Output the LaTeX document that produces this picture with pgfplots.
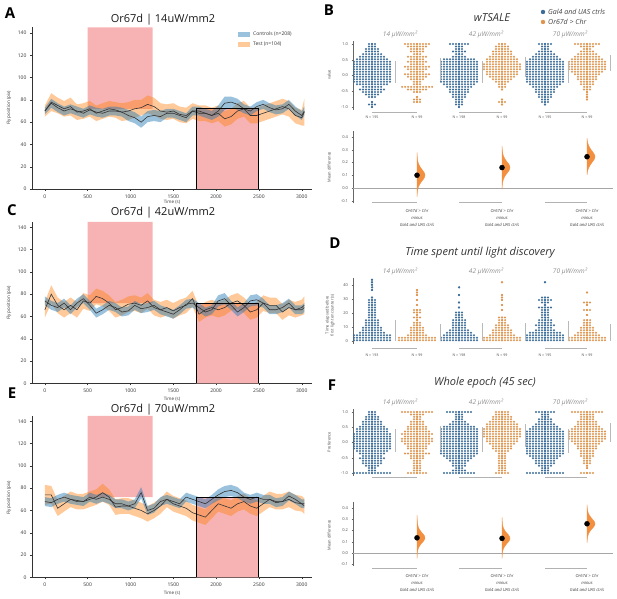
\documentclass[border=0pt]{standalone}
\usepackage{fontspec}
\setmainfont{Open Sans}
\usepackage{pgfplots}
\usepackage{pgfplotstable}
\pgfplotsset{compat=1.18}
\definecolor{bandblue}{HTML}{1F77B4}
\definecolor{bandorange}{HTML}{FF7F0E}
\definecolor{pinkrect}{HTML}{F7B3B3}
\definecolor{dotblue}{HTML}{3D6D99}
\definecolor{dotorange}{HTML}{DE9550}
\definecolor{vorange}{HTML}{F39040}
\definecolor{linec}{HTML}{333333}
\definecolor{txt}{HTML}{333333}

\pgfplotsset{
  tsgeo/.style={width=280pt, height=161.5pt, scale only axis, anchor=south west,
    xmin=-150, xmax=3120, ymin=0, ymax=145},
  ts/.style={tsgeo,
    axis lines=left, axis line style={-, draw=black!80, line width=0.5pt},
    xtick={0,500,...,3000}, ytick={0,20,...,140},
    tick label style={font=\fontsize{5}{6}\selectfont, text=txt},
    /pgf/number format/assume math mode=true, /pgf/number format/1000 sep={},
    tick align=outside, major tick length=2pt, tick style={black!80, line width=0.4pt}},
  sw/.style={width=260pt, scale only axis, anchor=south west, xmin=353, xmax=613,
    axis y line=left, axis x line=none, axis line style={-, draw=black!60, line width=0.4pt},
    xtick=\empty, tick label style={font=\fontsize{4}{5}\selectfont, text=black!70},
    /pgf/number format/assume math mode=true, tick align=outside, major tick length=1.5pt,
    tick style={black!60}, clip=false},
  dec/.style={yticklabel style={/pgf/number format/.cd, fixed, fixed zerofill, precision=1}},
  swarm/.style={draw=none, mark=none, forget plot,
    error bars/.cd, x dir=both, x explicit, error mark=none,
    error bar style={draw=#1, line width=2.25pt, line cap=round, dash pattern=on 0pt off 3pt}},
  sdl/.style={gray!55, line width=0.6pt, forget plot},
  brk/.style={gray!60, line width=0.5pt, forget plot},
}

% ---------- time series ----------
\pgfplotstableread{
t c cs e es
0 70 3 70 5
75 77 4 78 8
150 73 4 75 7
225 70 4 72 7
300 72 4 74 8
375 70 4 69 7
450 68 4 70 7
525 71 4 72 7
600 69 4 68 7
675 68 4 70 7
750 70 4 72 7
825 70 4 71 7
900 69 4 69 8
975 66 5 70 8
1050 64 5 72 8
1125 60 5 73 7
1200 65 5 76 8
1275 66 5 74 8
1350 65 5 70 7
1425 68 4 69 7
1500 68 4 70 7
1575 66 4 67 7
1650 64 4 66 7
1725 70 4 70 7
1800 70 4 68 7
1875 68 4 68 7
1950 66 4 66 7
2025 70 5 68 7
2100 77 6 63 7
2175 78 5 65 7
2250 76 5 70 7
2325 72 4 72 7
2400 70 4 66 7
2475 74 4 66 7
2550 76 4 68 7
2625 73 4 70 7
2700 71 4 72 7
2775 72 4 74 7
2850 76 4 72 7
2925 70 4 66 7
3000 66 4 64 7
3030 70 4 69 12
}\tA
\pgfplotstableread{
t c cs e es
0 74 4 66 7
75 70 4 80 8
150 68 4 70 7
225 72 4 66 7
300 66 4 70 7
375 72 4 66 7
450 76 4 74 7
525 70 4 72 7
600 63 4 78 7
675 66 4 76 7
750 70 4 72 7
825 68 4 66 7
900 64 4 68 7
975 65 4 71 7
1050 70 4 72 7
1125 67 4 70 7
1200 68 4 74 7
1275 70 4 68 7
1350 66 4 66 7
1425 64 4 68 7
1500 62 4 65 7
1575 66 4 68 7
1650 71 4 70 7
1725 72 4 76 7
1800 68 4 62 7
1875 64 4 66 7
1950 66 4 68 7
2025 74 5 66 7
2100 76 5 68 7
2175 70 4 72 7
2250 64 4 74 7
2325 68 4 70 7
2400 74 5 64 7
2475 75 5 66 7
2550 72 4 72 7
2625 66 4 70 7
2700 66 4 70 7
2775 68 4 64 7
2850 72 4 68 7
2925 66 4 66 7
3000 66 4 68 7
3030 68 4 70 8
}\tC
\pgfplotstableread{
t c cs e es
0 68 4 74 9
75 67 4 74 8
150 70 4 62 7
225 72 4 66 7
300 70 4 70 7
375 69 4 68 7
450 68 4 68 7
525 72 4 70 7
600 70 4 72 7
675 72 4 76 8
750 70 4 72 7
825 66 4 63 7
900 66 4 64 7
975 64 4 64 7
1050 66 4 62 7
1125 76 5 60 7
1200 60 4 57 7
1275 62 4 60 7
1350 68 4 64 7
1425 70 4 70 7
1500 68 4 66 7
1575 66 4 64 7
1650 72 4 62 7
1725 70 4 58 7
1800 68 4 56 7
1875 66 4 54 7
1950 70 4 60 7
2025 74 5 66 7
2100 77 5 64 7
2175 78 5 62 7
2250 76 5 66 7
2325 72 4 68 7
2400 70 4 64 7
2475 72 4 62 7
2550 70 4 66 7
2625 70 4 70 7
2700 67 4 68 7
2775 68 4 68 7
2850 73 4 70 7
2925 70 4 67 7
3000 66 4 66 7
3030 66 4 64 7
}\tE

% ---------- swarms B ----------
\pgfplotstableread[row sep=\\]{y n\\ 1.0 3\\ 0.92 3\\ 0.84 5\\ 0.76 5\\ 0.68 7\\ 0.60 9\\ 0.52 11\\ 0.44 13\\ 0.36 13\\ 0.28 13\\ 0.20 13\\ 0.12 13\\ 0.04 13\\ -0.04 13\\ -0.12 13\\ -0.20 13\\ -0.28 11\\ -0.36 7\\ -0.44 9\\ -0.52 7\\ -0.60 5\\ -0.68 3\\ -0.84 1\\ -0.92 3\\ -1.0 1\\}\Bba
\pgfplotstableread[row sep=\\]{y n\\ 1.0 9\\ 0.92 7\\ 0.84 5\\ 0.76 5\\ 0.68 3\\ 0.60 7\\ 0.52 5\\ 0.44 7\\ 0.36 5\\ 0.28 9\\ 0.20 7\\ 0.12 5\\ 0.04 9\\ -0.04 7\\ -0.12 5\\ -0.20 3\\ -0.28 3\\ -0.36 11\\ -0.44 7\\ -0.52 3\\ -0.68 1\\ -0.76 3\\ -0.84 3\\}\Boa
\pgfplotstableread[row sep=\\]{y n\\ 1.0 7\\ 0.92 3\\ 0.84 3\\ 0.76 5\\ 0.68 3\\ 0.60 5\\ 0.52 11\\ 0.44 13\\ 0.36 13\\ 0.28 13\\ 0.20 13\\ 0.12 13\\ 0.04 13\\ -0.04 13\\ -0.12 13\\ -0.20 13\\ -0.28 11\\ -0.36 9\\ -0.44 7\\ -0.52 7\\ -0.60 5\\ -0.68 5\\ -0.76 3\\ -0.84 3\\ -0.92 3\\ -1.0 1\\}\Bbb
\pgfplotstableread[row sep=\\]{y n\\ 1.0 3\\ 0.92 5\\ 0.84 5\\ 0.76 7\\ 0.68 7\\ 0.60 9\\ 0.52 11\\ 0.44 11\\ 0.36 13\\ 0.28 13\\ 0.20 13\\ 0.12 11\\ 0.04 11\\ -0.04 9\\ -0.12 7\\ -0.20 5\\ -0.28 3\\ -0.36 3\\ -0.44 1\\ -0.76 1\\ -0.84 3\\ -0.92 1\\}\Bob
\pgfplotstableread[row sep=\\]{y n\\ 1.0 5\\ 0.92 3\\ 0.84 3\\ 0.76 5\\ 0.68 7\\ 0.60 9\\ 0.52 11\\ 0.44 13\\ 0.36 13\\ 0.28 13\\ 0.20 13\\ 0.12 13\\ 0.04 13\\ -0.04 13\\ -0.12 13\\ -0.20 13\\ -0.28 11\\ -0.36 9\\ -0.44 7\\ -0.52 7\\ -0.60 5\\ -0.68 5\\ -0.76 3\\ -0.84 3\\ -0.92 1\\}\Bbc
\pgfplotstableread[row sep=\\]{y n\\ 1.0 9\\ 0.92 5\\ 0.84 3\\ 0.76 5\\ 0.68 7\\ 0.60 9\\ 0.52 11\\ 0.44 13\\ 0.36 13\\ 0.28 13\\ 0.20 13\\ 0.12 11\\ 0.04 9\\ -0.04 7\\ -0.12 7\\ -0.20 5\\ -0.28 5\\ -0.36 3\\ -0.44 3\\ -0.52 1\\ -0.60 1\\ -0.68 1\\ -0.76 1\\}\Boc

% ---------- swarms D ----------
\pgfplotstableread[row sep=\\]{y n\\ 0.5 13\\ 2.3 13\\ 4.1 13\\ 5.9 9\\ 7.7 7\\ 9.5 7\\ 11.3 5\\ 13.1 5\\ 14.9 5\\ 16.7 3\\ 18.5 3\\ 20.3 3\\ 22.1 3\\ 23.9 3\\ 25.7 3\\ 27.5 3\\ 29.3 3\\ 31.1 1\\ 36.5 1\\ 38.3 1\\ 40.1 1\\ 41.9 1\\ 43.7 1\\}\Dba
\pgfplotstableread[row sep=\\]{y n\\ 0.5 13\\ 2.3 13\\ 4.1 7\\ 5.9 5\\ 7.7 5\\ 9.5 5\\ 11.3 3\\ 13.1 3\\ 14.9 1\\ 16.7 3\\ 18.5 1\\ 20.3 3\\ 22.1 3\\ 25.7 1\\ 29.3 1\\ 32.9 1\\ 34.7 1\\ 36.5 1\\}\Doa
\pgfplotstableread[row sep=\\]{y n\\ 0.5 13\\ 2.3 13\\ 4.1 11\\ 5.9 9\\ 7.7 7\\ 9.5 5\\ 11.3 5\\ 13.1 5\\ 14.9 5\\ 16.7 3\\ 18.5 3\\ 20.3 3\\ 23.9 1\\ 27.5 1\\ 32.9 1\\ 38.3 1\\}\Dbb
\pgfplotstableread[row sep=\\]{y n\\ 0.5 13\\ 2.3 13\\ 4.1 9\\ 5.9 7\\ 7.7 7\\ 9.5 5\\ 11.3 5\\ 13.1 3\\ 14.9 3\\ 16.7 3\\ 22.1 1\\ 25.7 1\\ 29.3 1\\ 31.1 1\\ 32.9 1\\ 41.9 1\\}\Dob
\pgfplotstableread[row sep=\\]{y n\\ 0.5 13\\ 2.3 13\\ 4.1 13\\ 5.9 11\\ 7.7 7\\ 9.5 5\\ 11.3 7\\ 13.1 5\\ 14.9 5\\ 16.7 3\\ 18.5 3\\ 20.3 3\\ 22.1 3\\ 23.9 5\\ 25.7 1\\ 27.5 3\\ 29.3 5\\ 31.1 3\\ 41.9 1\\}\Dbc
\pgfplotstableread[row sep=\\]{y n\\ 0.5 13\\ 2.3 13\\ 4.1 9\\ 5.9 7\\ 7.7 5\\ 9.5 5\\ 11.3 3\\ 13.1 3\\ 14.9 3\\ 18.5 1\\ 22.1 3\\ 25.7 1\\ 27.5 3\\ 34.7 1\\}\Doc

% ---------- swarms F ----------
\pgfplotstableread[row sep=\\]{y n\\ 1.0 3\\ 0.92 3\\ 0.84 5\\ 0.76 5\\ 0.68 7\\ 0.60 7\\ 0.52 9\\ 0.44 11\\ 0.36 11\\ 0.28 13\\ 0.20 13\\ 0.12 13\\ 0.04 13\\ -0.04 13\\ -0.12 13\\ -0.20 13\\ -0.28 11\\ -0.36 9\\ -0.44 7\\ -0.52 9\\ -0.60 7\\ -0.68 7\\ -0.76 5\\ -0.84 3\\ -0.92 3\\ -1.0 13\\}\Fba
\pgfplotstableread[row sep=\\]{y n\\ 1.0 11\\ 0.92 5\\ 0.84 3\\ 0.76 3\\ 0.68 5\\ 0.60 5\\ 0.52 7\\ 0.44 7\\ 0.36 9\\ 0.28 11\\ 0.20 9\\ 0.12 11\\ 0.04 11\\ -0.04 9\\ -0.12 7\\ -0.20 7\\ -0.28 5\\ -0.36 9\\ -0.44 5\\ -0.52 5\\ -0.60 3\\ -0.68 3\\ -0.76 3\\ -0.84 3\\ -0.92 3\\ -1.0 7\\}\Foa
\pgfplotstableread[row sep=\\]{y n\\ 1.0 9\\ 0.92 3\\ 0.84 3\\ 0.76 3\\ 0.68 5\\ 0.60 7\\ 0.52 11\\ 0.44 13\\ 0.36 13\\ 0.28 13\\ 0.20 13\\ 0.12 13\\ 0.04 13\\ -0.04 13\\ -0.12 13\\ -0.20 13\\ -0.28 13\\ -0.36 13\\ -0.44 11\\ -0.52 9\\ -0.60 7\\ -0.68 5\\ -0.76 5\\ -0.84 3\\ -0.92 5\\ -1.0 11\\}\Fbb
\pgfplotstableread[row sep=\\]{y n\\ 1.0 5\\ 0.92 5\\ 0.84 7\\ 0.76 7\\ 0.68 9\\ 0.60 11\\ 0.52 11\\ 0.44 13\\ 0.36 13\\ 0.28 13\\ 0.20 13\\ 0.12 11\\ 0.04 11\\ -0.04 9\\ -0.12 7\\ -0.20 7\\ -0.28 5\\ -0.36 3\\ -0.44 3\\ -0.52 3\\ -0.60 3\\ -0.68 3\\ -0.76 3\\ -0.84 3\\ -0.92 3\\ -1.0 5\\}\Fob
\pgfplotstableread[row sep=\\]{y n\\ 1.0 7\\ 0.92 3\\ 0.84 3\\ 0.76 5\\ 0.68 5\\ 0.60 7\\ 0.52 9\\ 0.44 11\\ 0.36 13\\ 0.28 13\\ 0.20 13\\ 0.12 13\\ 0.04 13\\ -0.04 13\\ -0.12 13\\ -0.20 13\\ -0.28 13\\ -0.36 13\\ -0.44 11\\ -0.52 9\\ -0.60 7\\ -0.68 7\\ -0.76 5\\ -0.84 3\\ -0.92 3\\ -1.0 13\\}\Fbc
\pgfplotstableread[row sep=\\]{y n\\ 1.0 11\\ 0.92 5\\ 0.84 5\\ 0.76 5\\ 0.68 7\\ 0.60 7\\ 0.52 9\\ 0.44 11\\ 0.36 13\\ 0.28 13\\ 0.20 13\\ 0.12 13\\ 0.04 11\\ -0.04 9\\ -0.12 7\\ -0.20 7\\ -0.28 5\\ -0.36 5\\ -0.44 5\\ -0.52 3\\ -0.60 3\\ -0.68 3\\ -0.76 1\\ -0.84 1\\ -1.0 5\\}\Foc

% time-series panel: base axis (rects + axes), band axis (stacked), line axis
\newcommand{\tspanel}[2]{%
  \begin{axis}[ts, at={#1}]
  \addplot[fill=pinkrect, draw=none] coordinates {(500,72)(1260,72)(1260,145)(500,145)(500,72)};
  \addplot[fill=pinkrect, draw=none] coordinates {(1770,0)(2500,0)(2500,72)(1770,72)(1770,0)};
  \end{axis}
  \begin{axis}[tsgeo, at={#1}, hide axis, stack plots=y]
  \addplot[draw=none] table[x=t, y expr=\thisrow{c}-\thisrow{cs}] {#2};
  \addplot[draw=none, fill=bandblue, fill opacity=0.45] table[x=t, y expr=2*\thisrow{cs}] {#2} \closedcycle;
  \addplot[draw=none] table[x=t, y expr=\thisrow{e}-\thisrow{es}-\thisrow{c}-\thisrow{cs}] {#2};
  \addplot[draw=none, fill=bandorange, fill opacity=0.42] table[x=t, y expr=2*\thisrow{es}] {#2} \closedcycle;
  \end{axis}
  \begin{axis}[tsgeo, at={#1}, hide axis]
  \addplot[linec, line width=0.6pt] table[x=t, y=c] {#2};
  \addplot[linec, line width=0.6pt] table[x=t, y=e] {#2};
  \addplot[draw=black, line width=0.9pt] coordinates {(1770,0.4)(1770,72)(2500,72)(2500,0.4)};
  \end{axis}
}

\begin{document}
\begin{tikzpicture}
\path (0pt,0pt) rectangle (617pt,598pt);

\tspanel{(32pt,409pt)}{\tA}
\tspanel{(32pt,214.7pt)}{\tC}
\tspanel{(32pt,20.7pt)}{\tE}

% left legend (A)
\fill[bandblue, fill opacity=0.45] (238pt,561pt) rectangle (250pt,566pt);
\fill[bandorange, fill opacity=0.42] (238pt,551pt) rectangle (250pt,556pt);
\node[anchor=west, font=\fontsize{5}{6}\selectfont, text=txt, inner sep=0pt] at (253pt,563.5pt) {Controls (n=208)};
\node[anchor=west, font=\fontsize{5}{6}\selectfont, text=txt, inner sep=0pt] at (253pt,553.5pt) {Test (n=104)};

% left texts
\node[font=\fontsize{15}{16}\selectfont\bfseries] at (10pt,585pt) {A};
\node[font=\fontsize{15}{16}\selectfont\bfseries] at (12pt,388pt) {C};
\node[font=\fontsize{15}{16}\selectfont\bfseries] at (12pt,205pt) {E};
\node[font=\fontsize{11}{13}\selectfont, text=black!90] at (163pt,578pt) {Or67d | 14uW/mm2};
\node[font=\fontsize{11}{13}\selectfont, text=black!90] at (163pt,385pt) {Or67d | 42uW/mm2};
\node[font=\fontsize{11}{13}\selectfont, text=black!90] at (163pt,188pt) {Or67d | 70uW/mm2};
\foreach \yy in {396,199,5} {\node[font=\fontsize{4.5}{5}\selectfont, text=txt] at (172pt,\yy pt) {Time (s)};}
\foreach \yy in {490,295,100} {\node[font=\fontsize{4.5}{5}\selectfont, text=txt, rotate=90] at (9pt,\yy pt) {Fly position (pix)};}

% ===== B swarm =====
\begin{axis}[sw, dec, at={(353pt,487.8pt)}, height=69.3pt, ymin=-1.1, ymax=1.1, ytick={-1,-0.5,0,0.5,1}]
\addplot[swarm=dotblue] table[x expr=372, y=y, x error expr=1.5*\thisrow{n}-1.2] {\Bba};
\addplot[swarm=dotorange] table[x expr=417, y=y, x error expr=1.5*\thisrow{n}-1.2] {\Boa};
\addplot[swarm=dotblue] table[x expr=459, y=y, x error expr=1.5*\thisrow{n}-1.2] {\Bbb};
\addplot[swarm=dotorange] table[x expr=502, y=y, x error expr=1.5*\thisrow{n}-1.2] {\Bob};
\addplot[swarm=dotblue] table[x expr=545, y=y, x error expr=1.5*\thisrow{n}-1.2] {\Bbc};
\addplot[swarm=dotorange] table[x expr=587, y=y, x error expr=1.5*\thisrow{n}-1.2] {\Boc};
\addplot[sdl] coordinates {(395,0.46)(395,-0.24)};
\addplot[sdl] coordinates {(440,0.56)(440,-0.17)};
\addplot[sdl] coordinates {(482,0.45)(482,-0.25)};
\addplot[sdl] coordinates {(525,0.60)(525,-0.05)};
\addplot[sdl] coordinates {(568,0.45)(568,-0.25)};
\addplot[sdl] coordinates {(610,0.65)(610,0.15)};
\addplot[brk] coordinates {(372,-1.16)(417,-1.16)};
\addplot[brk] coordinates {(459,-1.16)(502,-1.16)};
\addplot[brk] coordinates {(545,-1.16)(587,-1.16)};
\foreach \xx/\lab in {372/195,417/99,459/198,502/99,545/195,587/99} {
  \edef\tmp{\noexpand\node[font=\noexpand\fontsize{3.6}{4}\noexpand\selectfont, text=black!70] at (axis cs:\xx,-1.33) {N = \lab};}\tmp}
\node[font=\fontsize{6.5}{7}\selectfont\itshape, text=black!45] at (axis cs:400,1.3) {14 μW/mm²};
\node[font=\fontsize{6.5}{7}\selectfont\itshape, text=black!45] at (axis cs:486,1.3) {42 μW/mm²};
\node[font=\fontsize{6.5}{7}\selectfont\itshape, text=black!45] at (axis cs:570,1.3) {70 μW/mm²};
\end{axis}

% ===== B estimation =====
\begin{axis}[sw, dec, at={(353pt,394.7pt)}, height=72.7pt, ymin=-0.12, ymax=0.45, ytick={-0.1,0,0.1,0.2,0.3,0.4}]
\addplot[gray!70, line width=0.5pt] coordinates {(353,0)(613,0)};
\addplot[fill=vorange, draw=vorange, line width=0.3pt] coordinates {(417,-0.07)(417.5,-0.02)(418.5,0.01)(419.8,0.03)(421.5,0.05)(423.5,0.07)(424.6,0.085)(425,0.10)(424.6,0.115)(423.5,0.13)(421.5,0.15)(419.8,0.17)(418.5,0.19)(417.5,0.22)(417,0.28)(417,-0.07)};
\addplot[fill=vorange, draw=vorange, line width=0.3pt] coordinates {(502,-0.01)(502.5,0.04)(503.5,0.07)(504.8,0.09)(506.5,0.11)(508.5,0.13)(509.6,0.145)(510,0.16)(509.6,0.175)(508.5,0.19)(506.5,0.21)(504.8,0.23)(503.5,0.25)(502.5,0.28)(502,0.33)(502,-0.01)};
\addplot[fill=vorange, draw=vorange, line width=0.3pt] coordinates {(587,0.10)(587.5,0.13)(588.5,0.155)(589.8,0.175)(591.5,0.195)(593.5,0.215)(594.6,0.23)(595,0.245)(594.6,0.26)(593.5,0.275)(591.5,0.295)(589.8,0.315)(588.5,0.335)(587.5,0.36)(587,0.39)(587,0.10)};
\addplot[only marks, mark=*, mark size=2.5pt, black] coordinates {(417,0.10)(502,0.16)(587,0.245)};
\addplot[brk] coordinates {(372,-0.11)(417,-0.11)};
\addplot[brk] coordinates {(459,-0.11)(502,-0.11)};
\addplot[brk] coordinates {(545,-0.11)(587,-0.11)};
\foreach \xx in {417,502,587} {
  \edef\tmp{\noexpand\node[font=\noexpand\fontsize{4.2}{7}\noexpand\selectfont\noexpand\itshape, text=black!75, align=center] at (axis cs:\xx,-0.235) {Or67d > Chr\noexpand\\minus\noexpand\\Gal4 and UAS ctrls};}\tmp}
\end{axis}

% ===== D swarm =====
\begin{axis}[sw, at={(353pt,254.2pt)}, height=65.8pt, ymin=-2, ymax=45, ytick={0,10,20,30,40}]
\addplot[swarm=dotblue] table[x expr=372, y=y, x error expr=1.5*\thisrow{n}-1.2] {\Dba};
\addplot[swarm=dotorange] table[x expr=417, y=y, x error expr=1.5*\thisrow{n}-1.2] {\Doa};
\addplot[swarm=dotblue] table[x expr=459, y=y, x error expr=1.5*\thisrow{n}-1.2] {\Dbb};
\addplot[swarm=dotorange] table[x expr=502, y=y, x error expr=1.5*\thisrow{n}-1.2] {\Dob};
\addplot[swarm=dotblue] table[x expr=545, y=y, x error expr=1.5*\thisrow{n}-1.2] {\Dbc};
\addplot[swarm=dotorange] table[x expr=587, y=y, x error expr=1.5*\thisrow{n}-1.2] {\Doc};
\addplot[sdl] coordinates {(395,0)(395,15)};
\addplot[sdl] coordinates {(440,0)(440,12)};
\addplot[sdl] coordinates {(482,0)(482,13)};
\addplot[sdl] coordinates {(525,0)(525,13)};
\addplot[sdl] coordinates {(568,0)(568,14)};
\addplot[sdl] coordinates {(610,0)(610,12)};
\addplot[brk] coordinates {(372,-5)(417,-5)};
\addplot[brk] coordinates {(459,-5)(502,-5)};
\addplot[brk] coordinates {(545,-5)(587,-5)};
\foreach \xx/\lab in {372/193,417/99,459/198,502/99,545/195,587/99} {
  \edef\tmp{\noexpand\node[font=\noexpand\fontsize{3.6}{4}\noexpand\selectfont, text=black!70] at (axis cs:\xx,-10) {N = \lab};}\tmp}
\node[font=\fontsize{6.5}{7}\selectfont\itshape, text=black!45] at (axis cs:400,49.5) {14 μW/mm²};
\node[font=\fontsize{6.5}{7}\selectfont\itshape, text=black!45] at (axis cs:486,49.5) {42 μW/mm²};
\node[font=\fontsize{6.5}{7}\selectfont\itshape, text=black!45] at (axis cs:570,49.5) {70 μW/mm²};
\end{axis}

% ===== F swarm =====
\begin{axis}[sw, dec, at={(353pt,121.95pt)}, height=67.1pt, ymin=-1.1, ymax=1.1, ytick={-1,-0.5,0,0.5,1}]
\addplot[swarm=dotblue] table[x expr=372, y=y, x error expr=1.5*\thisrow{n}-1.2] {\Fba};
\addplot[swarm=dotorange] table[x expr=417, y=y, x error expr=1.5*\thisrow{n}-1.2] {\Foa};
\addplot[swarm=dotblue] table[x expr=459, y=y, x error expr=1.5*\thisrow{n}-1.2] {\Fbb};
\addplot[swarm=dotorange] table[x expr=502, y=y, x error expr=1.5*\thisrow{n}-1.2] {\Fob};
\addplot[swarm=dotblue] table[x expr=545, y=y, x error expr=1.5*\thisrow{n}-1.2] {\Fbc};
\addplot[swarm=dotorange] table[x expr=587, y=y, x error expr=1.5*\thisrow{n}-1.2] {\Foc};
\addplot[sdl] coordinates {(395,0.45)(395,-0.30)};
\addplot[sdl] coordinates {(440,0.55)(440,-0.25)};
\addplot[sdl] coordinates {(482,0.50)(482,-0.30)};
\addplot[sdl] coordinates {(525,0.60)(525,-0.15)};
\addplot[sdl] coordinates {(568,0.45)(568,-0.35)};
\addplot[sdl] coordinates {(610,0.65)(610,0.00)};
\addplot[brk] coordinates {(372,-1.13)(417,-1.13)};
\addplot[brk] coordinates {(459,-1.13)(502,-1.13)};
\addplot[brk] coordinates {(545,-1.13)(587,-1.13)};
\node[font=\fontsize{6.5}{7}\selectfont\itshape, text=black!45] at (axis cs:400,1.3) {14 μW/mm²};
\node[font=\fontsize{6.5}{7}\selectfont\itshape, text=black!45] at (axis cs:486,1.3) {42 μW/mm²};
\node[font=\fontsize{6.5}{7}\selectfont\itshape, text=black!45] at (axis cs:570,1.3) {70 μW/mm²};
\end{axis}

% ===== F estimation =====
\begin{axis}[sw, dec, at={(353pt,31.5pt)}, height=64.1pt, ymin=-0.12, ymax=0.45, ytick={-0.1,0,0.1,0.2,0.3,0.4}]
\addplot[gray!70, line width=0.5pt] coordinates {(353,0)(613,0)};
\addplot[fill=vorange, draw=vorange, line width=0.3pt] coordinates {(417,-0.05)(417.5,0.015)(418.5,0.045)(419.8,0.065)(421.5,0.085)(423.5,0.105)(424.6,0.12)(425,0.135)(424.6,0.15)(423.5,0.165)(421.5,0.185)(419.8,0.205)(418.5,0.225)(417.5,0.26)(417,0.34)(417,-0.05)};
\addplot[fill=vorange, draw=vorange, line width=0.3pt] coordinates {(502,-0.05)(502.5,0.01)(503.5,0.04)(504.8,0.06)(506.5,0.08)(508.5,0.10)(509.6,0.115)(510,0.13)(509.6,0.145)(508.5,0.16)(506.5,0.18)(504.8,0.20)(503.5,0.22)(502.5,0.25)(502,0.32)(502,-0.05)};
\addplot[fill=vorange, draw=vorange, line width=0.3pt] coordinates {(587,0.09)(587.5,0.14)(588.5,0.17)(589.8,0.19)(591.5,0.21)(593.5,0.23)(594.6,0.245)(595,0.26)(594.6,0.275)(593.5,0.29)(591.5,0.31)(589.8,0.33)(588.5,0.35)(587.5,0.38)(587,0.43)(587,0.09)};
\addplot[only marks, mark=*, mark size=2.5pt, black] coordinates {(417,0.135)(502,0.13)(587,0.26)};
\addplot[brk] coordinates {(372,-0.133)(417,-0.133)};
\addplot[brk] coordinates {(459,-0.133)(502,-0.133)};
\addplot[brk] coordinates {(545,-0.133)(587,-0.133)};
\foreach \xx in {417,502,587} {
  \edef\tmp{\noexpand\node[font=\noexpand\fontsize{4.2}{7}\noexpand\selectfont\noexpand\itshape, text=black!75, align=center] at (axis cs:\xx,-0.27) {Or67d > Chr\noexpand\\minus\noexpand\\Gal4 and UAS ctrls};}\tmp}
\end{axis}

% right legend (B)
\fill[dotblue] (543pt,586pt) circle (2.2pt);
\fill[dotorange] (543pt,576pt) circle (2.2pt);
\node[anchor=west, font=\fontsize{7}{8}\selectfont\itshape, text=black!75, inner sep=0pt] at (548pt,586pt) {Gal4 and UAS ctrls};
\node[anchor=west, font=\fontsize{7}{8}\selectfont\itshape, text=black!75, inner sep=0pt] at (548pt,576pt) {Or67d > Chr};

% right texts
\node[font=\fontsize{15}{16}\selectfont\bfseries] at (329pt,588pt) {B};
\node[font=\fontsize{15}{16}\selectfont\bfseries] at (335pt,355pt) {D};
\node[font=\fontsize{15}{16}\selectfont\bfseries] at (332pt,213pt) {F};
\node[font=\fontsize{11}{13}\selectfont\itshape, text=black!80] at (492pt,580pt) {wTSALE};
\node[font=\fontsize{11}{13}\selectfont\itshape, text=black!80] at (480pt,345pt) {Time spent until light discovery};
\node[font=\fontsize{11}{13}\selectfont\itshape, text=black!80] at (485pt,215pt) {Whole epoch (45 sec)};
\node[font=\fontsize{4}{5}\selectfont, text=black!70, rotate=90] at (329pt,523pt) {value};
\node[font=\fontsize{4}{5}\selectfont, text=black!70, rotate=90] at (329pt,431pt) {Mean difference};
\node[font=\fontsize{4}{5}\selectfont, text=black!70, rotate=90, align=center] at (330pt,283pt) {Time elapsed before\\first light encounter (s)};
\node[font=\fontsize{4}{5}\selectfont, text=black!70, rotate=90] at (329pt,156pt) {Preference};
\node[font=\fontsize{4}{5}\selectfont, text=black!70, rotate=90] at (329pt,63pt) {Mean difference};
\end{tikzpicture}
\end{document}
